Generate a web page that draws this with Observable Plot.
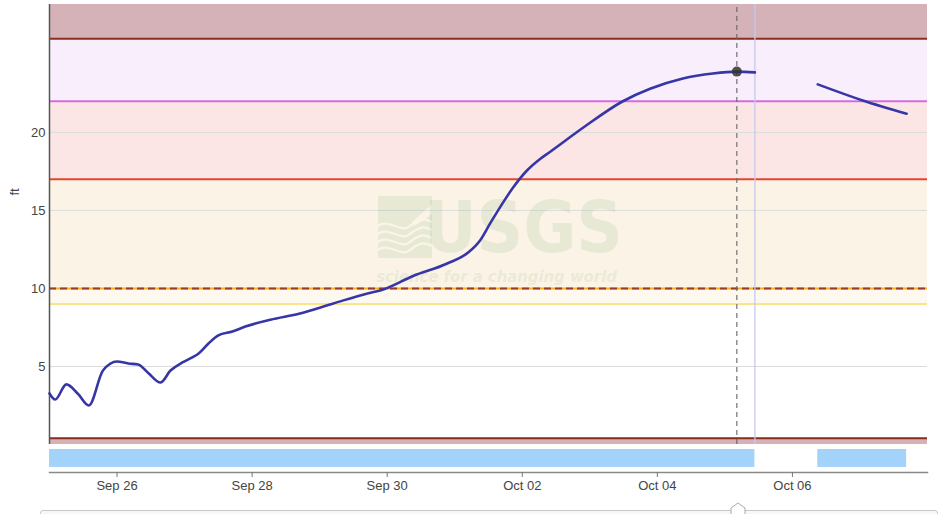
<!DOCTYPE html>
<html>
<head>
<meta charset="utf-8">
<script src="https://cdn.jsdelivr.net/npm/d3@7"></script>
<script src="https://cdn.jsdelivr.net/npm/@observablehq/plot@0.6"></script>
<style>
  html, body { margin: 0; padding: 0; background: #fff; overflow: hidden; }
  #wrap { position: relative; width: 938px; height: 514px; }
  #slider { position: absolute; left: 40px; top: 510px; width: 896px; height: 14px;
            border: 1px solid #c8c8c8; border-radius: 3px; background: #f7f7f7; }
  #handle { position: absolute; left: 730px; top: 502px; }
</style>
</head>
<body>
<div id="wrap"></div>
<script>
// ---- data ----
const times = [
  "2023-09-25T00:00","2023-09-25T02:00","2023-09-25T06:00","2023-09-25T10:00","2023-09-25T14:00",
  "2023-09-25T19:00","2023-09-26T00:00","2023-09-26T04:00","2023-09-26T07:30","2023-09-26T11:00",
  "2023-09-26T15:25","2023-09-26T19:00","2023-09-26T23:15","2023-09-27T02:45","2023-09-27T05:00",
  "2023-09-27T08:30","2023-09-27T12:00","2023-09-27T17:00","2023-09-27T21:35","2023-09-28T06:30",
  "2023-09-28T17:00","2023-09-29T04:50","2023-09-29T17:00","2023-09-29T21:30","2023-09-30T09:15",
  "2023-09-30T21:20","2023-10-01T04:45","2023-10-01T09:00","2023-10-01T12:35","2023-10-01T16:05",
  "2023-10-01T20:45","2023-10-02T01:40","2023-10-02T06:20","2023-10-02T09:50","2023-10-02T21:35",
  "2023-10-03T11:45","2023-10-03T21:25","2023-10-04T09:05","2023-10-04T19:45","2023-10-05T04:15",
  "2023-10-05T10:40","2023-10-06T00:00","2023-10-06T09:00","2023-10-07T01:00","2023-10-07T16:35"
];
const stage = [
  3.27, 2.88, 3.85, 3.27, 2.50,
  4.74, 5.32, 5.19, 5.13, 4.60,
  3.97, 4.74, 5.26, 5.58, 5.83,
  6.47, 6.99, 7.24, 7.56, 8.00,
  8.40, 9.04, 9.68, 9.87, 10.80,
  11.60, 12.30, 13.08, 14.17, 15.20,
  16.47, 17.56, 18.30, 18.75, 20.30,
  22.00, 22.80, 23.46, 23.78, 23.90,
  23.85, null, 23.08, 22.05, 21.20
];
const latestTime = "2023-10-05T04:15";
const latestValue = 23.9;
const cursorTime = "2023-10-05T10:40";

const bandLow  = [26, 22, 17, 10, 9, 0];
const bandHigh = [28.2, 26, 22, 17, 10, 0.4];
const thresholds = [26, 22, 17, 9, 0.4];
const floodLine = 10;

const availStart = ["2023-09-25T00:00", "2023-10-06T09:00"];
const availEnd   = ["2023-10-05T10:40", "2023-10-07T16:35"];

const xTickLabels = ["2023-09-26","2023-09-28","2023-09-30","2023-10-02","2023-10-04","2023-10-06"];
const yTicks = [5, 10, 15, 20];
const xDomainStr = ["2023-09-25T00:00", "2023-10-08T00:00"];
const yDomain = [-1.795, 28.2];

// ---- styles ----
const bandColors = ["#d5b2b7", "#f9eefb", "#fce6e5", "#fbf3e5", "#fef9ef", "#d5b2b7"];
const thresholdColors = ["#8b2e20", "#d36be6", "#e8422d", "#fde38c", "#8b2e20"];

const P = s => new Date(s + (s.length === 10 ? "T00:00Z" : "Z"));
const series = times.map((t, i) => ({t: P(t), v: stage[i]}));
const bands = bandLow.map((lo, i) => ({lo, hi: bandHigh[i], c: bandColors[i]}));
const thr = thresholds.map((v, i) => ({v, c: thresholdColors[i]}));
const avail = availStart.map((s, i) => ({a: P(s), b: P(availEnd[i])}));
const xDomain = xDomainStr.map(P);

const wmFill = "#8fbf8f";
const wmOpacity = 0.18;

function usgsIcon(index, scales, values, dims) {
  const cx = (dims.marginLeft + dims.width - dims.marginRight) / 2;
  const cy = (dims.marginTop + dims.height - dims.marginBottom) / 2;
  const g = d3.create("svg:g")
    .attr("transform", `translate(${cx - 110},${cy - 42})`)
    .attr("opacity", wmOpacity);
  g.append("path").attr("fill", wmFill)
    .attr("d", "M0,0 H54 V8 L34,26 V30 C38,30 48,22 54,18 V62 H0 Z");
  for (let k = 0; k < 4; k++) {
    const y0 = 30 + k * 8;
    g.append("path").attr("fill", "none").attr("stroke", "#fff").attr("stroke-width", 2.2)
      .attr("d", `M0,${y0} C12,${y0 - 8} 22,${y0 + 8} 32,${y0} S46,${y0 - 8} 54,${y0 - 4}`);
  }
  return g.node();
}

const chart = Plot.plot({
  width: 938,
  height: 506,
  marginLeft: 49,
  marginRight: 11,
  marginTop: 4,
  marginBottom: 34,
  style: {fontFamily: "'Liberation Sans', Arial, sans-serif", fontSize: "13px", color: "#444", background: "transparent"},
  x: {type: "utc", domain: xDomain, label: null},
  y: {domain: yDomain, label: null},
  marks: [
    Plot.rect(bands, {x1: xDomain[0], x2: xDomain[1], y1: "lo", y2: "hi", fill: "c"}),
    Plot.gridY(yTicks, {stroke: "#dcdcdc", strokeOpacity: 1, strokeWidth: 1}),
    usgsIcon,
    Plot.text(["USGS"], {frameAnchor: "middle", dx: 35, dy: -10, fontSize: 72, fontWeight: 900,
      fontFamily: "'DejaVu Sans Condensed', 'DejaVu Sans', sans-serif", fill: wmFill, fillOpacity: wmOpacity,
      lineAnchor: "middle"}),
    Plot.text(["science for a changing world"], {frameAnchor: "middle", dx: 8, dy: 38, fontSize: 16.5,
      fontWeight: "bold", fontStyle: "italic", fontFamily: "'DejaVu Sans Condensed', 'DejaVu Sans', sans-serif",
      fill: wmFill, fillOpacity: wmOpacity}),
    Plot.ruleY(thr, {y: "v", stroke: "c", strokeWidth: 2}),
    Plot.ruleY([floodLine], {stroke: "#f2b21e", strokeWidth: 2}),
    Plot.ruleY([floodLine], {stroke: "#9a3b2d", strokeWidth: 2, strokeDasharray: "7,4"}),
    Plot.ruleX([xDomain[0]], {y1: 0, y2: yDomain[1], stroke: "#555", strokeWidth: 1.5}),
    Plot.ruleX([P(cursorTime)], {y1: 0, y2: yDomain[1], stroke: "#c6c9ee", strokeWidth: 1.3}),
    Plot.ruleX([P(latestTime)], {y1: 0, y2: yDomain[1], stroke: "#666", strokeWidth: 1.1, strokeDasharray: "5,4"}),
    Plot.line(series, {x: "t", y: "v", stroke: "#3636a6", strokeWidth: 2.6, curve: "monotone-x"}),
    Plot.dot([{t: P(latestTime), v: latestValue}], {x: "t", y: "v", r: 5, fill: "#333", fillOpacity: 0.85}),
    Plot.rect(avail, {x1: "a", x2: "b", y1: -0.32, y2: -1.47, fill: "#a3d3fb"}),
    Plot.frame({anchor: "bottom", stroke: "#8a8a8a", strokeWidth: 1.5}),
    Plot.axisY(yTicks, {tickSize: 0, tickPadding: 4, fill: "#444", fontSize: 13}),
    Plot.axisX(xTickLabels.map(P), {tickSize: 5, tickPadding: 3, stroke: "#777", fill: "#444",
      tickFormat: d3.utcFormat("%b %d"), fontSize: 13}),
    Plot.text(["ft"], {frameAnchor: "left", dx: -35, dy: -43, rotate: -90, fontSize: 13, fill: "#444"})
  ]
});

const wrap = document.getElementById("wrap");
wrap.appendChild(chart);
const slider = document.createElement("div");
slider.id = "slider";
wrap.appendChild(slider);
wrap.insertAdjacentHTML("beforeend",
  '<svg id="handle" width="16" height="14"><path d="M1,13 V6 L8,1 L15,6 V13 Z" fill="#fff" stroke="#aaa" stroke-width="1"/></svg>');
</script>
</body>
</html>
